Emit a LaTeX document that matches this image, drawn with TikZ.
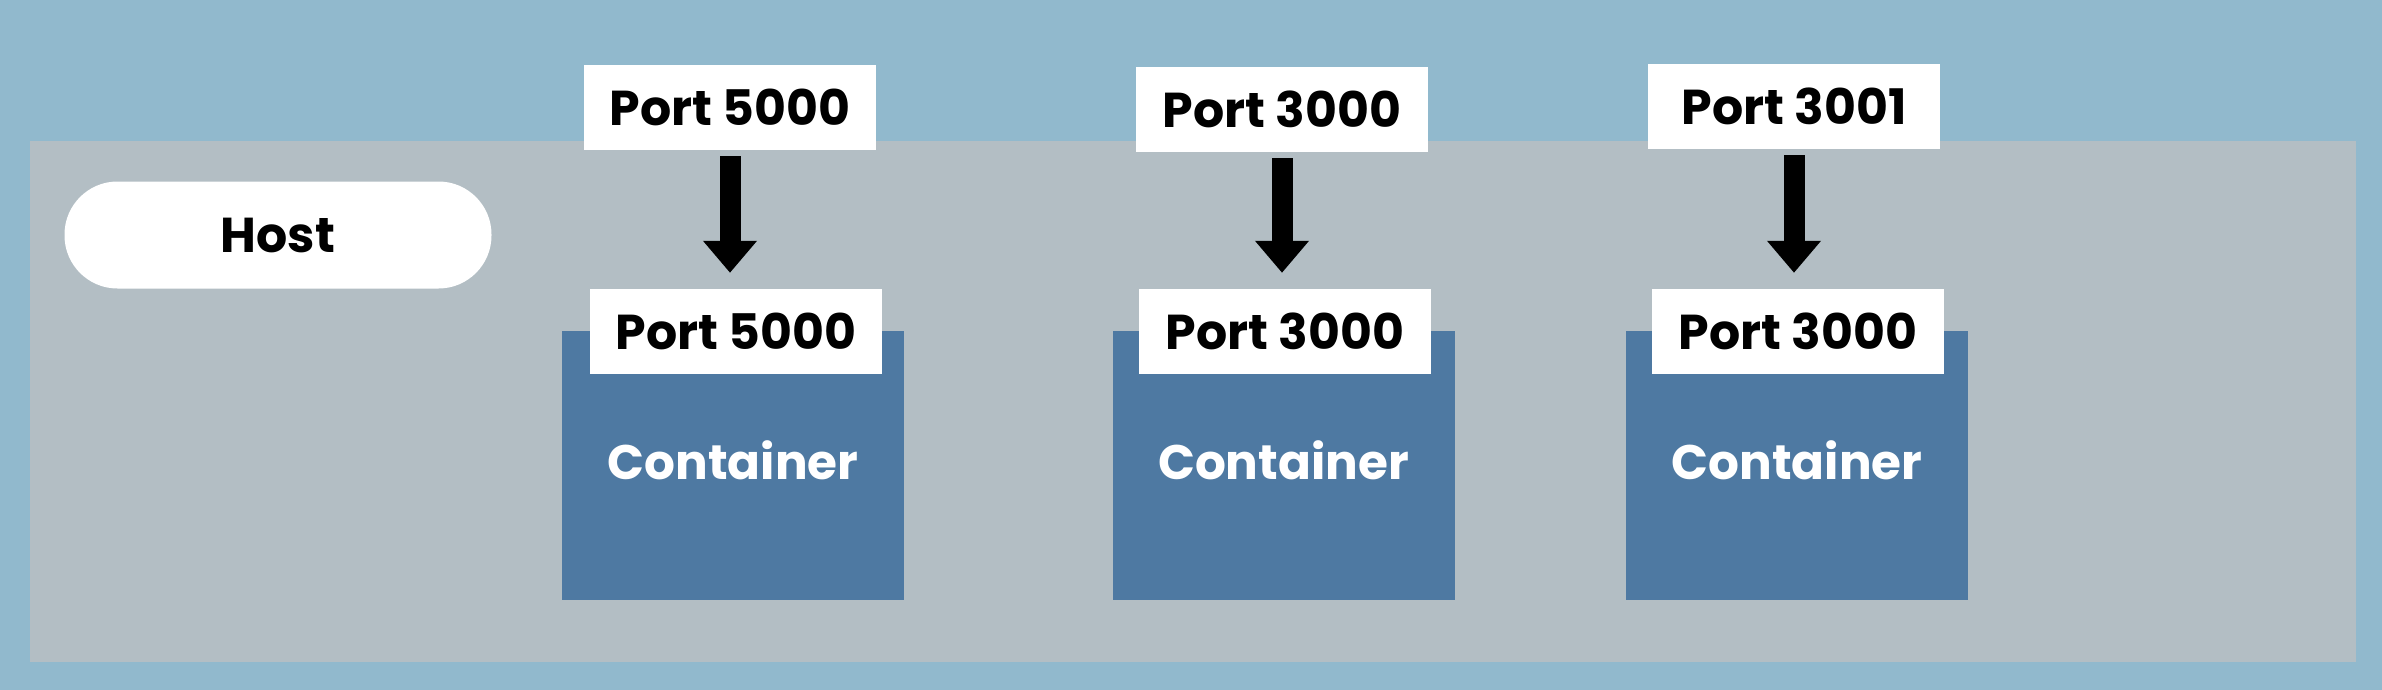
\documentclass[tikz,border=0pt]{standalone}
\usepackage{fontspec}
\setmainfont{Poppins}
\usetikzlibrary{arrows.meta}
\definecolor{bgblue}{RGB}{145,185,205}
\definecolor{hostgray}{RGB}{179,190,196}
\definecolor{contblue}{RGB}{78,121,162}
\tikzset{
  portbox/.style={fill=white, draw=none, inner sep=0pt, minimum width=292pt, minimum height=85pt,
    font=\fontsize{49}{60}\selectfont\bfseries, text=black},
  contbox/.style={fill=contblue, draw=none, inner sep=0pt, minimum width=342pt, minimum height=269pt},
  conttext/.style={font=\fontsize{48.5}{60}\selectfont\bfseries, text=white, inner sep=0pt},
  hostpill/.style={fill=white, draw=none, rounded corners=53pt, inner sep=0pt, minimum width=427pt, minimum height=107pt,
    font=\fontsize{49}{60}\selectfont\bfseries},
  maparrow/.style={line width=21pt, -{Triangle[width=52pt,length=32pt]}, black, shorten <=6pt, shorten >=16pt}
}
\begin{document}
\begin{tikzpicture}[x=1pt,y=-1pt]
\useasboundingbox (0,0) rectangle (2382,690);
\fill[bgblue] (0,0) rectangle (2382,690);
\fill[hostgray] (30,141) rectangle (2356,662);
\node[hostpill] (host) at (278,235) {Host};
% containers
\node[contbox] (c1) at (733,465.5) {};
\node[contbox] (c2) at (1283.5,465.5) {};
\node[contbox] (c3) at (1797,465.5) {};
\node[conttext] (t1) at (733,460) {Container};
\node[conttext] (t2) at (1283.5,460) {Container};
\node[conttext] (t3) at (1797,460) {Container};
% container ports
\node[portbox] (p1) at (736,331.5) {Port 5000};
\node[portbox] (p2) at (1285,331.5) {Port 3000};
\node[portbox] (p3) at (1798,331.5) {Port 3000};
% host ports
\node[portbox] (h1) at (730,107.5) {Port 5000};
\node[portbox] (h2) at (1282,109.5) {Port 3000};
\node[portbox] (h3) at (1794,106.5) {Port 3001};
% arrows
\draw[maparrow] (h1.south) -- (h1.south |- p1.north);
\draw[maparrow] (h2.south) -- (h2.south |- p2.north);
\draw[maparrow] (h3.south) -- (h3.south |- p3.north);
\end{tikzpicture}
\end{document}
